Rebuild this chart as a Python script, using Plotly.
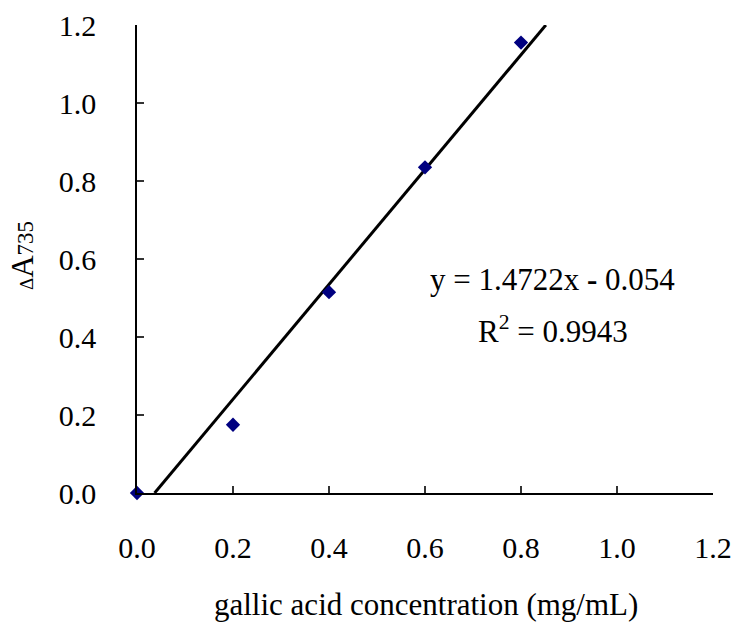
import plotly.graph_objects as go

conc = [0.0, 0.2, 0.4, 0.6, 0.8]
absorb = [0.0, 0.175, 0.515, 0.835, 1.155]
slope = 1.4722
intercept = -0.054
tick_vals = [0.0, 0.2, 0.4, 0.6, 0.8, 1.0, 1.2]
tick_text = ["0.0", "0.2", "0.4", "0.6", "0.8", "1.0", "1.2"]

y_lo, y_hi = 0.0, 1.2
line_x = [(y_lo - intercept) / slope, (y_hi - intercept) / slope]
line_y = [slope * v + intercept for v in line_x]

FONT = "Liberation Serif"

fig = go.Figure()
fig.add_trace(go.Scatter(x=line_x, y=line_y, mode="lines",
                         line=dict(color="black", width=3), showlegend=False))
fig.add_trace(go.Scatter(x=conc, y=absorb, mode="markers",
                         marker=dict(symbol="diamond", size=11, color="#000080"),
                         cliponaxis=False, showlegend=False))

axis_common = dict(showgrid=False, zeroline=False, showline=True, linecolor="black",
                   linewidth=1.5, ticks="inside", ticklen=7, tickwidth=1.5, tickcolor="#333",
                   automargin=False,
                   tickfont=dict(family=FONT, size=30, color="black"))

fig.update_xaxes(range=[0, 1.2], tickvals=tick_vals, ticktext=tick_text,
                 ticklabelstandoff=27, **axis_common)
fig.update_yaxes(range=[0, 1.2], tickvals=tick_vals, ticktext=tick_text,
                 ticklabelstandoff=33, **axis_common)

fig.add_annotation(xref="paper", yref="paper", x=(426 - 137) / 576, y=(493 - 604) / 468,
                   xanchor="center", yanchor="middle",
                   text="gallic acid concentration (mg/mL)", showarrow=False,
                   font=dict(family=FONT, size=31, color="black"))
fig.add_annotation(xref="paper", yref="paper", x=(22 - 137) / 576, y=(493 - 256) / 468,
                   xanchor="center", yanchor="middle",
                   text="<span style='font-size:19px'>Δ</span>A<span style='font-size:23px'>735</span>",
                   textangle=-90, showarrow=False,
                   font=dict(family=FONT, size=31, color="black"))
fig.add_annotation(x=0.866, y=0.548, text="y = 1.4722x <b>-</b> 0.054", showarrow=False,
                   font=dict(family=FONT, size=31, color="black"))
fig.add_annotation(x=0.866, y=0.42, text="R<sup>2</sup> = 0.9943", showarrow=False,
                   font=dict(family=FONT, size=31, color="black"))

fig.update_layout(width=734, height=623, margin=dict(l=137, r=21, t=25, b=130),
                  plot_bgcolor="white", paper_bgcolor="white")

fig.write_html("out.html")
